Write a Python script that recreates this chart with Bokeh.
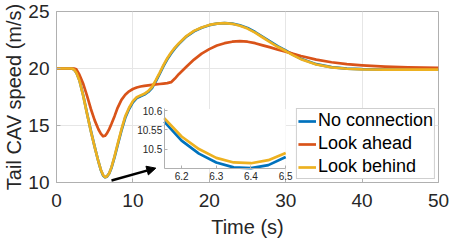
from bokeh.plotting import figure
from bokeh.models import Range1d, LinearAxis, FixedTicker, Arrow, NormalHead
from bokeh.embed import file_html
from bokeh.resources import INLINE

# ---------------- data ----------------
time_s = [0.0, 2.0, 2.3, 2.6, 3.0, 3.5, 4.0, 4.5, 5.0, 5.5,
          5.8, 6.1, 6.35, 6.6, 6.9, 7.2, 7.6, 8.0, 8.5, 9.0,
          9.5, 10.0, 10.5, 11.0, 11.5, 12.0, 12.5, 13.0, 13.5, 14.0,
          14.5, 15.0, 15.5, 16.0, 17.0, 18.0, 19.0, 20.0, 21.0, 22.0,
          23.0, 24.0, 25.0, 26.0, 27.0, 28.0, 29.0, 30.0, 31.0, 32.0,
          34.0, 36.0, 38.0, 40.0, 43.0, 46.0, 50.0]

no_connection = [20.0, 20.0, 19.91, 19.64, 18.97, 17.63, 16.05, 14.53, 13.12, 11.80,
                 11.10, 10.62, 10.455, 10.515, 10.80, 11.30, 12.22, 13.27, 14.54, 15.68,
                 16.45, 17.03, 17.40, 17.57, 17.71, 17.94, 18.29, 18.88, 19.52, 20.20,
                 20.81, 21.32, 21.76, 22.14, 22.80, 23.26, 23.58, 23.80, 23.93, 23.98,
                 23.94, 23.79, 23.55, 23.20, 22.78, 22.36, 21.94, 21.58, 21.20, 20.86,
                 20.38, 20.12, 19.99, 19.94, 19.91, 19.90, 19.90]

look_ahead = [20.0, 20.0, 20.0, 19.93, 19.45, 18.65, 17.60, 16.45, 15.45, 14.65,
              14.28, 14.05, 14.10, 14.30, 14.68, 15.15, 15.82, 16.55, 17.25, 17.70,
              18.00, 18.20, 18.33, 18.42, 18.48, 18.52, 18.56, 18.60, 18.64, 18.68,
              18.72, 18.80, 19.12, 19.50, 20.15, 20.78, 21.30, 21.70, 22.02, 22.22,
              22.35, 22.40, 22.35, 22.22, 22.03, 21.85, 21.65, 21.48, 21.28, 21.10,
              20.78, 20.55, 20.38, 20.28, 20.17, 20.10, 20.05]

look_behind = [20.0, 20.0, 19.90, 19.62, 18.95, 17.60, 16.02, 14.50, 13.10, 11.80,
               11.12, 10.65, 10.47, 10.53, 10.82, 11.35, 12.30, 13.37, 14.65, 15.80,
               16.56, 17.14, 17.48, 17.64, 17.78, 18.02, 18.38, 18.98, 19.62, 20.30,
               20.90, 21.40, 21.83, 22.20, 22.85, 23.30, 23.60, 23.82, 23.94, 23.98,
               23.92, 23.75, 23.50, 23.15, 22.72, 22.30, 21.88, 21.53, 21.15, 20.82,
               20.35, 20.10, 19.98, 19.93, 19.90, 19.90, 19.90]

# zoomed-in detail (inset)
zoom_time = [6.15, 6.2, 6.25, 6.3, 6.35, 6.4, 6.45, 6.5]
zoom_no_connection = [10.572, 10.522, 10.488, 10.465, 10.452, 10.450, 10.458, 10.479]
zoom_look_behind = [10.581, 10.533, 10.500, 10.477, 10.465, 10.463, 10.471, 10.490]

x_ticks = [0, 10, 20, 30, 40, 50]
y_ticks = [10, 15, 20, 25]
zoom_x_ticks = [6.2, 6.3, 6.4, 6.5]
zoom_y_ticks = [10.5, 10.55, 10.6]
zoom_y_tick_labels = ["10.5", "10.55", "10.6"]

# ---------------- layout / style constants ----------------
X_LIM = (0, 50)
Y_LIM = (10, 25)
ZOOM_X_LIM = (6.15, 6.5)
ZOOM_Y_LIM = (10.448, 10.605)
# where the inset box sits, in main-axes data units
INSET_BOX = (14.1, 30.0, 11.19, 16.45)  # x0, x1, y0, y1
ARROW_FROM = (7.2, 10.17)
ARROW_TO = (13.0, 11.26)

BLUE = "#0072BD"
ORANGE = "#D95319"
YELLOW = "#EDB120"
AXIS_GRAY = "#b0b0b0"
TEXT = "#262626"
FONT = "Liberation Sans"
LW = 2.7

p = figure(width=449, height=240, output_backend="svg", toolbar_location=None,
           x_range=Range1d(*X_LIM), y_range=Range1d(*Y_LIM),
           min_border_left=50, min_border_right=11, min_border_top=11, min_border_bottom=57)
p.background_fill_color = "white"
p.border_fill_color = "white"
p.outline_line_color = AXIS_GRAY

main_x = p.below[0]
main_y = p.left[0]

# extra ranges mapping inset data into the inset box
x0, x1, y0, y1 = INSET_BOX
ax = (ZOOM_X_LIM[1] - ZOOM_X_LIM[0]) / (x1 - x0)
ay = (ZOOM_Y_LIM[1] - ZOOM_Y_LIM[0]) / (y1 - y0)
p.extra_x_ranges = {"ix": Range1d(ZOOM_X_LIM[0] - (x0 - X_LIM[0]) * ax,
                                  ZOOM_X_LIM[1] + (X_LIM[1] - x1) * ax)}
p.extra_y_ranges = {"iy": Range1d(ZOOM_Y_LIM[0] - (y0 - Y_LIM[0]) * ay,
                                  ZOOM_Y_LIM[1] + (Y_LIM[1] - y1) * ay)}

for axis, ticks in ((main_x, x_ticks), (main_y, y_ticks)):
    axis.ticker = FixedTicker(ticks=ticks)
    axis.major_tick_in = 4
    axis.major_tick_out = 0
    axis.minor_tick_line_color = None
    axis.axis_line_color = AXIS_GRAY
    axis.major_tick_line_color = AXIS_GRAY
    axis.major_label_text_font = FONT
    axis.major_label_text_font_size = "19px"
    axis.major_label_text_color = TEXT
    axis.axis_label_text_font = FONT
    axis.axis_label_text_font_size = "20px"
    axis.axis_label_text_font_style = "normal"
    axis.axis_label_text_color = TEXT

main_x.axis_label = "Time (s)"
main_x.major_label_standoff = 11
main_x.axis_label_standoff = 6
main_y.axis_label = "Tail CAV speed (m/s)"
main_y.major_label_standoff = 7
main_y.axis_label_standoff = 0

p.xgrid.ticker = FixedTicker(ticks=x_ticks)
p.ygrid.ticker = FixedTicker(ticks=y_ticks)
p.xgrid.grid_line_color = "#e6e6e6"
p.ygrid.grid_line_color = "#e6e6e6"

# main curves
p.line(time_s, no_connection, color=BLUE, line_width=LW, line_join="round", legend_label="No connection")
p.line(time_s, look_ahead, color=ORANGE, line_width=LW, line_join="round", legend_label="Look ahead")
p.line(time_s, look_behind, color=YELLOW, line_width=LW, line_join="round", legend_label="Look behind")

# inset
p.quad(left=[ZOOM_X_LIM[0]], right=[ZOOM_X_LIM[1]], bottom=[ZOOM_Y_LIM[0]], top=[ZOOM_Y_LIM[1]],
       x_range_name="ix", y_range_name="iy", fill_color="white", line_color=None)
p.line(zoom_time, zoom_no_connection, color=BLUE, line_width=LW, line_join="round",
       x_range_name="ix", y_range_name="iy")
p.line(zoom_time, zoom_look_behind, color=YELLOW, line_width=LW, line_join="round",
       x_range_name="ix", y_range_name="iy")

inset_y_axis = LinearAxis(x_range_name="ix", y_range_name="iy", fixed_location=ZOOM_X_LIM[0],
                          bounds=ZOOM_Y_LIM, ticker=FixedTicker(ticks=zoom_y_ticks),
                          major_label_overrides=dict(zip(zoom_y_ticks, zoom_y_tick_labels)))
inset_x_axis = LinearAxis(x_range_name="ix", y_range_name="iy", fixed_location=ZOOM_Y_LIM[0],
                          bounds=ZOOM_X_LIM, ticker=FixedTicker(ticks=zoom_x_ticks))
for axis in (inset_y_axis, inset_x_axis):
    axis.major_tick_in = 3
    axis.major_tick_out = 0
    axis.minor_tick_line_color = None
    axis.axis_line_color = AXIS_GRAY
    axis.major_tick_line_color = AXIS_GRAY
    axis.major_label_text_font = FONT
    axis.major_label_text_font_size = "10px"
    axis.major_label_text_color = TEXT
inset_y_axis.major_label_standoff = 2
inset_x_axis.major_label_standoff = 3
p.add_layout(inset_y_axis, "left")
p.add_layout(inset_x_axis, "below")

p.add_layout(Arrow(end=NormalHead(size=9, fill_color="black", line_color="black", line_width=1),
                   x_start=ARROW_FROM[0], y_start=ARROW_FROM[1],
                   x_end=ARROW_TO[0], y_end=ARROW_TO[1],
                   line_color="black", line_width=2.5))

lg = p.legend[0]
lg.location = "bottom_right"
lg.margin = 3
lg.padding = 1
lg.spacing = 2
lg.glyph_width = 18
lg.glyph_height = 20
lg.label_height = 20
lg.label_standoff = 2
lg.label_text_font = FONT
lg.label_text_font_size = "18px"
lg.label_text_color = "black"
lg.border_line_color = "#a0a0a0"
lg.border_line_width = 1
lg.background_fill_alpha = 1.0

open("out.html", "w").write(file_html(p, INLINE))
